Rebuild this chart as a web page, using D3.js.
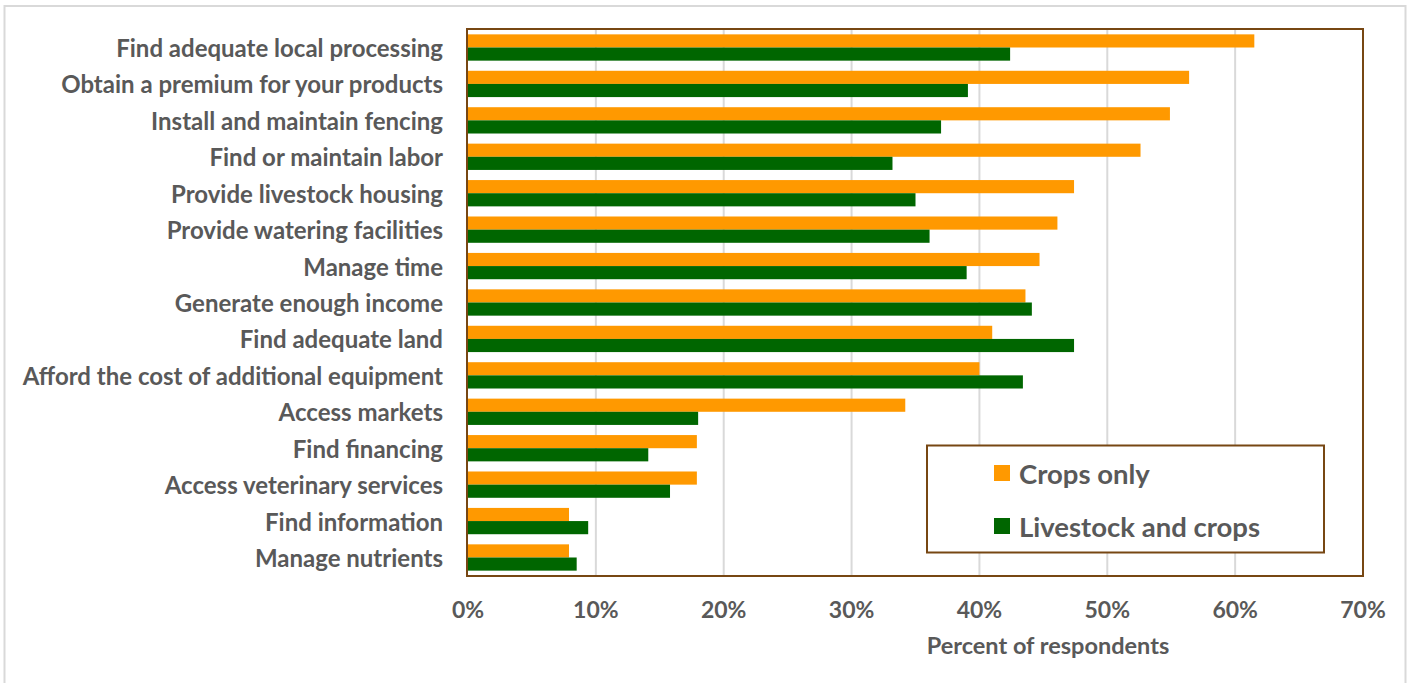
<!DOCTYPE html>
<html>
<head>
<meta charset="utf-8">
<script src="https://cdn.jsdelivr.net/npm/d3@7"></script>
<style>
  html, body { margin: 0; padding: 0; background: #fff; }
  svg { display: block; }
  text { font-family: "Lato", "Open Sans", sans-serif; font-weight: bold; fill: #595959; }
</style>
</head>
<body>
<svg id="chart" width="1413" height="683"></svg>
<script>
const categories = [
  "Find adequate local processing",
  "Obtain a premium for your products",
  "Install and maintain fencing",
  "Find or maintain labor",
  "Provide livestock housing",
  "Provide watering facilities",
  "Manage time",
  "Generate enough income",
  "Find adequate land",
  "Afford the cost of additional equipment",
  "Access markets",
  "Find financing",
  "Access veterinary services",
  "Find information",
  "Manage nutrients"
];
const cropsOnly = [61.5, 56.4, 54.9, 52.6, 47.4, 46.1, 44.7, 43.6, 41.0, 40.0, 34.2, 17.9, 17.9, 7.9, 7.9];
const livestockAndCrops = [42.4, 39.1, 37.0, 33.2, 35.0, 36.1, 39.0, 44.1, 47.4, 43.4, 18.0, 14.1, 15.8, 9.4, 8.5];
const seriesNames = ["Crops only", "Livestock and crops"];
const seriesColors = ["#FF9900", "#006600"];
const xTicks = [0, 10, 20, 30, 40, 50, 60, 70];
const xTitle = "Percent of respondents";

const svg = d3.select("#chart");
const plot = { left: 468, right: 1363, top: 29, bottom: 576 };
const brown = "#774713";

// outer frame
svg.append("rect").attr("x", 4.5).attr("y", 6).attr("width", 1401).attr("height", 700)
  .attr("fill", "none").attr("stroke", "#d9d9d9").attr("stroke-width", 2);

const x = d3.scaleLinear().domain([0, 70]).range([plot.left, plot.right]);
const y = d3.scaleBand().domain(categories).range([plot.top, plot.bottom])
  .paddingInner(0.278).paddingOuter(0.147);
const ys = d3.scaleBand().domain(seriesNames).range([0, y.bandwidth()]);

// gridlines
svg.append("g").selectAll("line").data(xTicks.filter(t => t > 0 && t < 70)).join("line")
  .attr("x1", d => x(d)).attr("x2", d => x(d))
  .attr("y1", plot.top).attr("y2", plot.bottom)
  .attr("stroke", "#d9d9d9").attr("stroke-width", 2);

const rows = categories.map((c, i) => ({ c, vals: [cropsOnly[i], livestockAndCrops[i]] }));
const g = svg.append("g");
rows.forEach(r => {
  r.vals.forEach((v, j) => {
    g.append("rect")
      .attr("x", x(0))
      .attr("y", y(r.c) + ys(seriesNames[j]))
      .attr("width", x(v) - x(0))
      .attr("height", ys.bandwidth())
      .attr("fill", seriesColors[j]);
  });
});

// plot border
svg.append("rect").attr("x", plot.left - 1).attr("y", plot.top)
  .attr("width", plot.right - plot.left + 1).attr("height", plot.bottom - plot.top)
  .attr("fill", "none").attr("stroke", brown).attr("stroke-width", 2);

// category labels
svg.append("g").selectAll("text").data(categories).join("text")
  .attr("x", 443).attr("y", d => y(d) + y.bandwidth() / 2)
  .attr("text-anchor", "end").attr("dominant-baseline", "central")
  .style("font-size", "24px").text(d => d);

// x tick labels
svg.append("g").selectAll("text").data(xTicks).join("text")
  .attr("x", d => x(d)).attr("y", 609)
  .attr("text-anchor", "middle").attr("dominant-baseline", "central")
  .style("font-size", "23px").text(d => d + "%");

svg.append("text").attr("x", 1048).attr("y", 645)
  .attr("text-anchor", "middle").attr("dominant-baseline", "central")
  .style("font-size", "23.5px").text(xTitle);

// legend
const lg = svg.append("g");
lg.append("rect").attr("x", 927).attr("y", 445.5).attr("width", 397).attr("height", 107)
  .attr("fill", "#fff").attr("stroke", brown).attr("stroke-width", 2);
const legendY = d3.scalePoint().domain(seriesNames).range([473, 526]);
seriesNames.forEach((s, i) => {
  lg.append("rect").attr("x", 994).attr("y", legendY(s) - 8).attr("width", 16).attr("height", 16)
    .attr("fill", seriesColors[i]);
  lg.append("text").attr("x", 1019).attr("y", legendY(s))
    .attr("dominant-baseline", "central").style("font-size", "27.5px").text(s);
});
</script>
</body>
</html>
